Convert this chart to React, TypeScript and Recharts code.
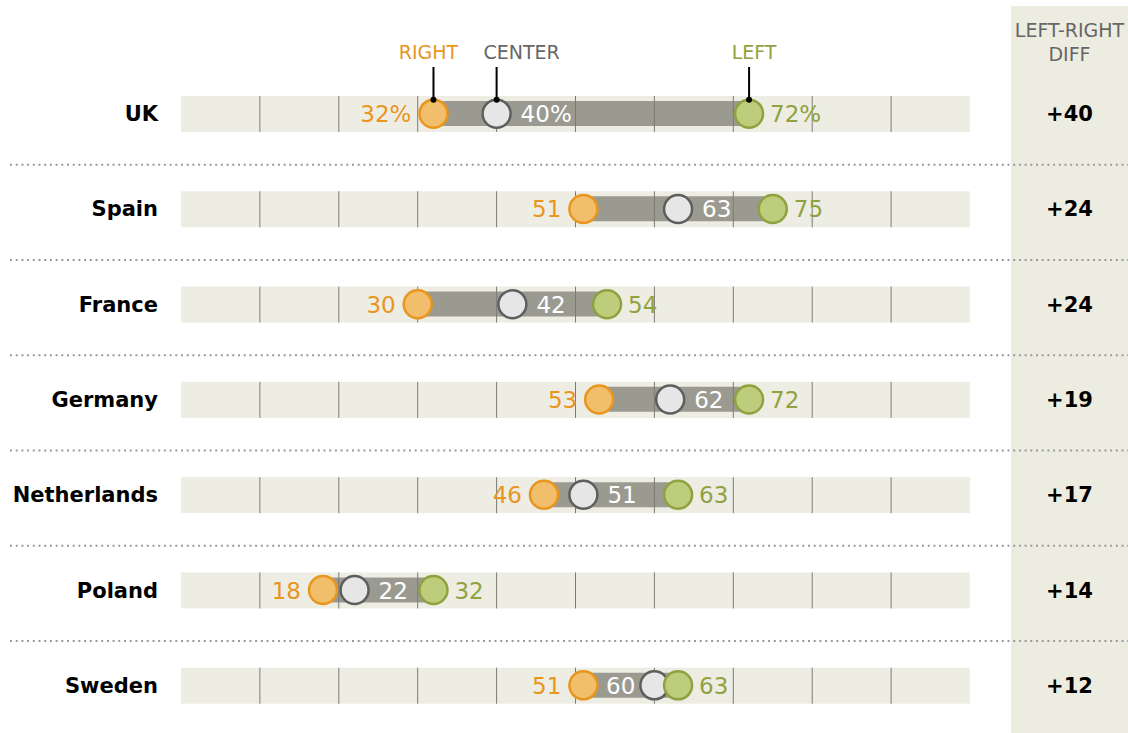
import { ComposedChart, XAxis, YAxis, Bar, Line } from "recharts"

const countries = ["UK", "Spain", "France", "Germany", "Netherlands", "Poland", "Sweden"]
const rightVals = [32, 51, 30, 53, 46, 18, 51]
const centerVals = [40, 63, 42, 62, 51, 22, 60]
const leftVals = [72, 75, 54, 72, 63, 32, 63]
const diffLabels = ["+40", "+24", "+24", "+19", "+17", "+14", "+12"]
const gridTicks = [10, 20, 30, 40, 50, 60, 70, 80, 90]
const domainMin = 0
const domainMax = 100

const data = countries.map((country, i) => ({
	country,
	band: [domainMin, domainMax],
	span: [rightVals[i], leftVals[i]],
	right: rightVals[i],
	center: centerVals[i],
	left: leftVals[i],
	diff: diffLabels[i],
}))

const W = 1128
const H = 733
const TOP = 66
const ROW = (H - TOP) / countries.length

const FONT = "DejaVu Sans"
const ORANGE = "#E8961E"
const ORANGE_FILL = "#F1BE6B"
const GREEN = "#8FA23F"
const GREEN_FILL = "#BDCD7C"
const GREY = "#5E5E5E"
const GREY_FILL = "#E6E6E6"
const R = 14

// beige row band + dotted separator above each row (except the first)
const BandShape = (props: any) => {
	const { x, y, width, height, index } = props
	const sepY = y + height / 2 - ROW / 2 + 3
	return (
		<g>
			{index > 0 && (
				<line x1={10} x2={W} y1={sepY} y2={sepY} stroke="#9a9a9a" strokeWidth={2} strokeDasharray="2 3.7" />
			)}
			<rect x={x} y={y} width={width} height={height} fill="#EEEDE3" />
		</g>
	)
}

const GridShape = (props: any) => {
	const { x, y, width, height } = props
	return (
		<g>
			{gridTicks.map((t) => {
				const px = x + (width * (t - domainMin)) / (domainMax - domainMin)
				return <line key={t} x1={px} x2={px} y1={y} y2={y + height} stroke="#7a7a7a" strokeWidth={1} />
			})}
		</g>
	)
}

const Leader = ({ cx, cy, text, color, dx, anchor }: any) => (
	<g>
		<line x1={cx} x2={cx} y1={67} y2={cy - R} stroke="#000" strokeWidth={2} />
		<circle cx={cx} cy={cy - R} r={3} fill="#000" />
		<text x={cx + dx} y={59} textAnchor={anchor} fontFamily={FONT} fontSize={19} fill={color}>
			{text}
		</text>
	</g>
)

const RightDot = (props: any) => {
	const { cx, cy, index, value } = props
	const pct = index === 0 ? "%" : ""
	return (
		<g key={`r-${index}`}>
			<circle cx={cx} cy={cy} r={R} fill={ORANGE_FILL} stroke={ORANGE} strokeWidth={2.5} />
			<text x={cx - 22} y={cy + 8.5} textAnchor="end" fontFamily={FONT} fontSize={23} fill={ORANGE}>
				{value}
				{pct}
			</text>
			{index === 0 && <Leader cx={cx} cy={cy} text="RIGHT" color={ORANGE} dx={-5} anchor="middle" />}
		</g>
	)
}

const CenterDot = (props: any) => {
	const { cx, cy, index, value, payload } = props
	const pct = index === 0 ? "%" : ""
	const labelLeft = payload.left - payload.center < 6
	return (
		<g key={`c-${index}`}>
			<circle cx={cx} cy={cy} r={R} fill={GREY_FILL} stroke={GREY} strokeWidth={2.5} />
			<text
				x={labelLeft ? cx - 19 : cx + 24}
				y={cy + 8.5}
				textAnchor={labelLeft ? "end" : "start"}
				fontFamily={FONT}
				fontSize={23}
				fill="#fff"
			>
				{value}
				{pct}
			</text>
			{index === 0 && <Leader cx={cx} cy={cy} text="CENTER" color="#666" dx={25} anchor="middle" />}
		</g>
	)
}

const LeftDot = (props: any) => {
	const { cx, cy, index, value } = props
	const pct = index === 0 ? "%" : ""
	return (
		<g key={`l-${index}`}>
			<circle cx={cx} cy={cy} r={R} fill={GREEN_FILL} stroke={GREEN} strokeWidth={2.5} />
			<text x={cx + 21} y={cy + 8.5} textAnchor="start" fontFamily={FONT} fontSize={23} fill={GREEN}>
				{value}
				{pct}
			</text>
			{index === 0 && <Leader cx={cx} cy={cy} text="LEFT" color={GREEN} dx={5} anchor="middle" />}
		</g>
	)
}

const CountryTick = ({ y, payload }: any) => (
	<text x={158} y={y} dy={7.5} textAnchor="end" fontFamily={FONT} fontWeight="bold" fontSize={21} fill="#000">
		{payload.value}
	</text>
)

const DiffTick = ({ y, index }: any) => (
	<text x={1069.5} y={y} dy={7.5} textAnchor="middle" fontFamily={FONT} fontWeight="bold" fontSize={21} fill="#000">
		{diffLabels[index]}
	</text>
)

export default function App() {
	return (
		<div style={{ position: "absolute", left: 0, top: 0, width: W, height: H, background: "#fff" }}>
			<div
				style={{
					position: "absolute",
					left: 1011,
					top: 6,
					width: 117,
					height: H - 6,
					background: "#EDECE1",
					fontFamily: FONT,
					fontSize: 19,
					color: "#666",
					textAlign: "center",
					lineHeight: "24px",
					paddingTop: 12,
					boxSizing: "border-box",
				}}
			>
				LEFT-RIGHT
				<br />
				DIFF
			</div>
			<div style={{ position: "absolute", left: 0, top: 0 }}>
				<ComposedChart
					layout="vertical"
					width={W}
					height={H}
					data={data}
					margin={{ top: TOP, right: 0, bottom: 0, left: 0 }}
				>
					<XAxis type="number" domain={[domainMin, domainMax]} hide />
					<YAxis
						yAxisId="band"
						type="category"
						dataKey="country"
						width={181}
						axisLine={false}
						tickLine={false}
						tick={<CountryTick />}
						interval={0}
					/>
					<YAxis
						yAxisId="diff"
						orientation="right"
						type="category"
						dataKey="country"
						width={158}
						axisLine={false}
						tickLine={false}
						tick={<DiffTick />}
						interval={0}
					/>
					<YAxis yAxisId="span" type="category" dataKey="country" hide />
					<YAxis yAxisId="grid" type="category" dataKey="country" hide />
					<Bar yAxisId="band" dataKey="band" barSize={36} shape={<BandShape />} isAnimationActive={false} />
					<Bar yAxisId="span" dataKey="span" barSize={25} fill="#9B9A91" isAnimationActive={false} />
					<Bar yAxisId="grid" dataKey="band" barSize={36} shape={<GridShape />} isAnimationActive={false} />
					<Line yAxisId="band" dataKey="right" stroke="none" dot={RightDot} activeDot={false} isAnimationActive={false} />
					<Line yAxisId="band" dataKey="center" stroke="none" dot={CenterDot} activeDot={false} isAnimationActive={false} />
					<Line yAxisId="band" dataKey="left" stroke="none" dot={LeftDot} activeDot={false} isAnimationActive={false} />
				</ComposedChart>
			</div>
		</div>
	)
}
